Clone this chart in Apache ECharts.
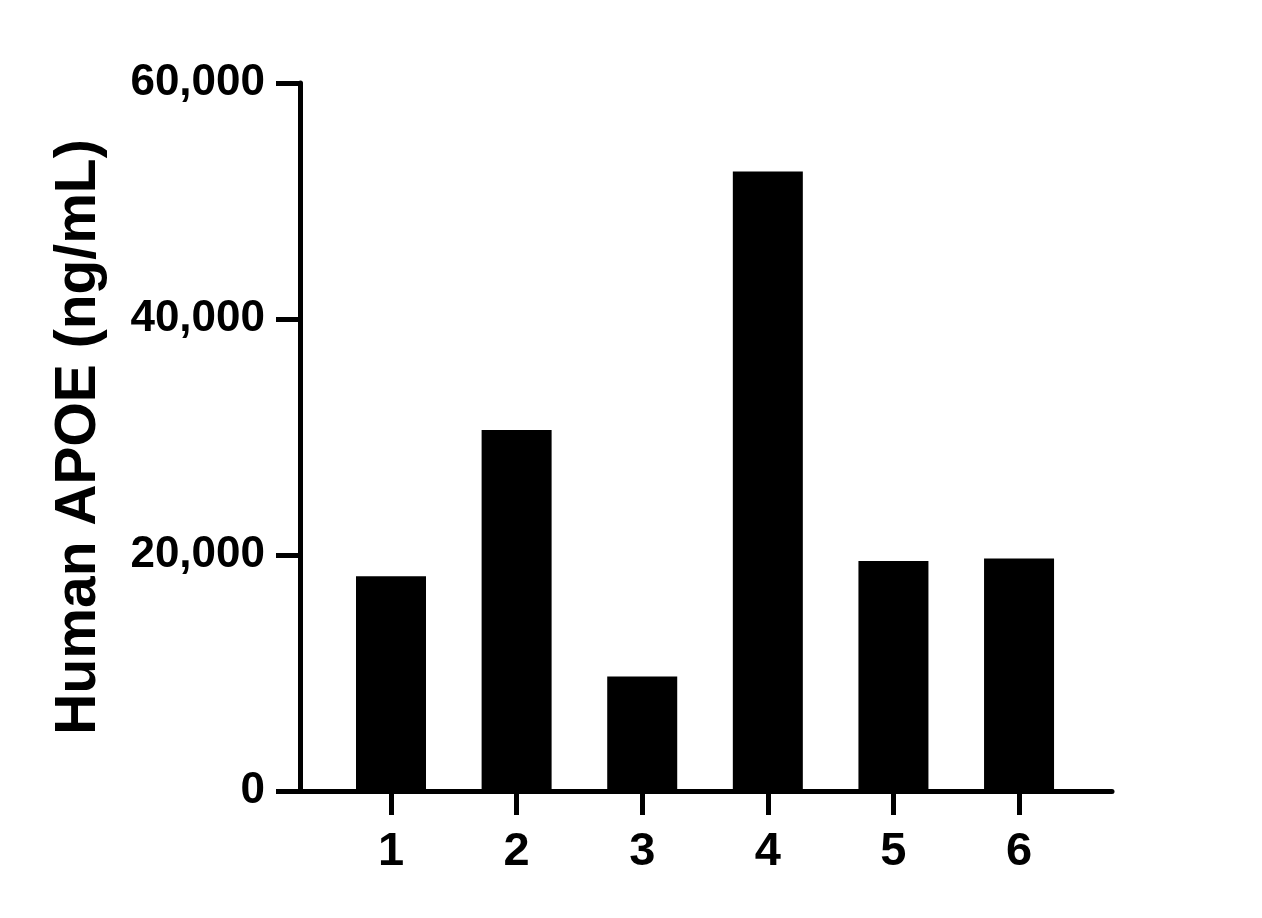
<!DOCTYPE html>
<html>
<head>
<meta charset="utf-8">
<script src="https://cdn.jsdelivr.net/npm/echarts@6/dist/echarts.min.js"></script>
<style>
html,body{margin:0;padding:0;background:#fff;}
#chart{width:1262px;height:918px;}
</style>
</head>
<body>
<div id="chart"></div>
<script>
const categories = ['1', '2', '3', '4', '5', '6'];
const values = [18200, 30600, 9700, 52500, 19500, 19700];
const yTicks = [0, 20000, 40000, 60000];
const yTitle = 'Human APOE (ng/mL)';

const positions = categories.map((c, i) => i + 1);
const seriesData = positions.map((p, i) => [p, values[i]]);
const font = 'Arial, "Liberation Sans", sans-serif';

const chart = echarts.init(document.getElementById('chart'));
chart.setOption({
  animation: false,
  backgroundColor: '#fff',
  grid: { left: 300, right: 150, top: 83, bottom: 127, containLabel: false },
  xAxis: {
    type: 'value',
    min: 0.2755,
    max: 6.74,
    splitLine: { show: false },
    axisLine: { show: true, onZero: false, lineStyle: { color: '#000', width: 5 } },
    axisTick: { show: true, customValues: positions, length: 24, lineStyle: { color: '#000', width: 5 } },
    axisLabel: {
      customValues: positions,
      formatter: v => categories[Math.round(v) - 1] || '',
      color: '#000', fontSize: 47, fontWeight: 'bold', fontFamily: font, margin: 38
    }
  },
  yAxis: {
    type: 'value',
    min: 0,
    max: 60000,
    interval: 20000,
    splitLine: { show: false },
    axisLine: { show: true, lineStyle: { color: '#000', width: 5 } },
    axisTick: { show: true, customValues: yTicks, length: 24, lineStyle: { color: '#000', width: 5 } },
    axisLabel: {
      customValues: yTicks,
      formatter: v => v.toLocaleString('en-US'),
      color: '#000', fontSize: 44, fontWeight: 'bold', fontFamily: font, margin: 35
    },
    name: yTitle,
    nameLocation: 'middle',
    nameGap: 192,
    nameTextStyle: { color: '#000', fontSize: 57, fontWeight: 'bold', fontFamily: font }
  },
  series: [{
    type: 'bar',
    data: seriesData,
    barWidth: 70,
    itemStyle: { color: '#000' }
  }]
});
</script>
</body>
</html>
